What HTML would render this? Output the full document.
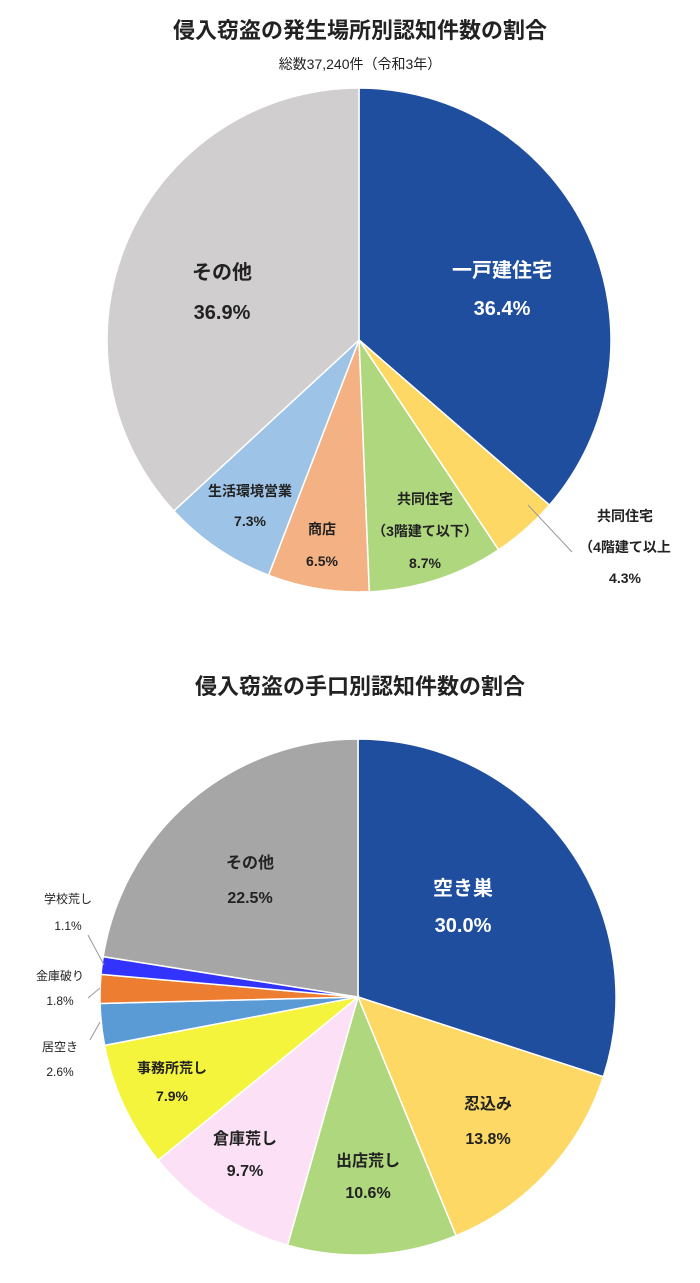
<!DOCTYPE html>
<html><head><meta charset="utf-8">
<style>
body{margin:0;background:#fff;width:700px;height:1278px;overflow:hidden;font-family:"Liberation Sans","Noto Sans CJK JP",sans-serif;}
svg text{font-family:"Liberation Sans","Noto Sans CJK JP",sans-serif;}
</style></head>
<body>
<svg id="chart" width="700" height="1278" viewBox="0 0 700 1278">
<text x="360" y="38" text-anchor="middle" font-size="22" font-weight="bold" fill="#222">侵入窃盗の発生場所別認知件数の割合</text>
<text x="360" y="69" text-anchor="middle" font-size="14" fill="#222">総数37,240件（令和3年）</text>
<text x="360" y="694" text-anchor="middle" font-size="22" font-weight="bold" fill="#222">侵入窃盗の手口別認知件数の割合</text>
<g id="pie1"></g>
<g id="pie2"></g>
</svg>
<script>
const cats1 = ["一戸建住宅","共同住宅（4階建て以上）","共同住宅（3階建て以下）","商店","生活環境営業","その他"];
const vals1 = [36.4, 4.3, 8.7, 6.5, 7.3, 36.9];
const cats2 = ["空き巣","忍込み","出店荒し","倉庫荒し","事務所荒し","居空き","金庫破り","学校荒し","その他"];
const vals2 = [30.0, 13.8, 10.6, 9.7, 7.9, 2.6, 1.8, 1.1, 22.5];
const colors1 = ["#1f4e9e","#fdd865","#aed77e","#f4b183","#9dc3e6","#d0cece"];
const colors2 = ["#1f4e9e","#fdd865","#aed77e","#fce0f5","#f4f43c","#5b9bd5","#ed7d31","#3333ff","#a6a6a6"];
const NS="http://www.w3.org/2000/svg";
function pt(cx,cy,r,a){return [cx+r*Math.sin(a),cy-r*Math.cos(a)];}
function drawPie(g,cx,cy,r,vals,colors,prefix){
  const total=vals.reduce((a,b)=>a+b,0);
  let a0=0;
  vals.forEach((v,i)=>{
    const a1=a0+v/total*2*Math.PI;
    const p0=pt(cx,cy,r,a0),p1=pt(cx,cy,r,a1);
    const large=(a1-a0)>Math.PI?1:0;
    const p=document.createElementNS(NS,"path");
    p.setAttribute("d",`M${cx},${cy}L${p0[0]},${p0[1]}A${r},${r} 0 ${large} 1 ${p1[0]},${p1[1]}Z`);
    p.setAttribute("fill",colors[i]);
    p.setAttribute("stroke","#fff");
    p.setAttribute("stroke-width","1.5");
    
    
    g.appendChild(p);
    a0=a1;
  });
}
drawPie(document.getElementById("pie1"),359,340,252,vals1,colors1,"location");
drawPie(document.getElementById("pie2"),358,997,258,vals2,colors2,"method");
function fmt(v){return v.toFixed(1)+"%";}
function label(lines,x,y,size,color,weight,gap,name){
  const g=document.getElementById("chart");
  lines.forEach((t,k)=>{
    const e=document.createElementNS(NS,"text");
    e.setAttribute("x",x);e.setAttribute("y",y+k*gap);
    e.setAttribute("text-anchor","middle");
    e.setAttribute("font-size",size);
    e.setAttribute("fill",color);
    if(weight)e.setAttribute("font-weight",weight);
    e.textContent=t;
    
    
    g.appendChild(e);
  });
}
function line(x1,y1,x2,y2,name){
  const l=document.createElementNS(NS,"polyline");
  l.setAttribute("points",`${x1},${y1} ${x2},${y2}`);
  l.setAttribute("stroke","#999");l.setAttribute("fill","none");l.setAttribute("stroke-width","1");
  
  
  document.getElementById("chart").appendChild(l);
}
// chart 1 labels
label([cats1[0],fmt(vals1[0])],502,277,20,"#fff","bold",38,"detached-house");
label(["その他",fmt(vals1[5])],222,279,20,"#222","bold",40,"other1");
label([cats1[4],fmt(vals1[4])],250,496,14,"#222","bold",30,"living-business");
label([cats1[3],fmt(vals1[3])],322,534,14,"#222","bold",32,"shop");
label(["共同住宅","（3階建て以下）",fmt(vals1[2])],425,504,14,"#222","bold",32,"apartment-low");
label(["共同住宅","（4階建て以上",fmt(vals1[1])],625,521,14,"#222","bold",31,"apartment-high");
line(528,505,572,552,"apartment-high");
// chart 2 labels
label([cats2[0],fmt(vals2[0])],463,895,20,"#fff","bold",37,"akisu");
label(["その他",fmt(vals2[8])],250,868,16,"#222","bold",35,"other2");
label([cats2[1],fmt(vals2[1])],488,1109,16,"#222","bold",35,"shinobikomi");
label([cats2[2],fmt(vals2[2])],368,1166,16,"#222","bold",32,"demise");
label([cats2[3],fmt(vals2[3])],245,1144,16,"#222","bold",32,"souko");
label([cats2[4],fmt(vals2[4])],172,1073,14,"#222","bold",28,"jimusho");
label([cats2[5],fmt(vals2[5])],60,1051,12,"#222","",25,"iaki");
label([cats2[6],fmt(vals2[6])],60,980,12,"#222","",25,"kinko");
label([cats2[7],fmt(vals2[7])],68,903,12,"#222","",27,"gakkou");
line(100,1022,90,1040,"iaki");
line(100,988,88,998,"kinko");
line(104,965,88,935,"gakkou");
</script>
</body></html>
